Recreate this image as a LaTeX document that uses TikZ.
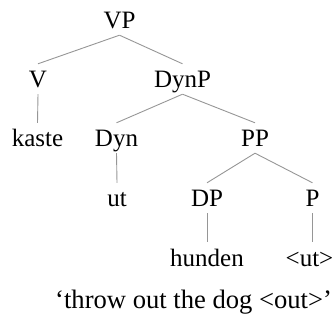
\documentclass[tikz,border=0pt]{standalone}
\usepackage{fontspec}
\setmainfont{Liberation Serif}
\definecolor{edgegray}{RGB}{150,150,150}
\tikzset{
  lab/.style={anchor=base, inner xsep=0pt, inner ysep=6pt, text height=18pt, text depth=0pt, font=\fontsize{25}{30}\selectfont},
  edge/.style={draw=edgegray, line width=0.9pt},
  capt/.style={anchor=base west, inner sep=0pt, font=\fontsize{26.6}{32}\selectfont}
}
\begin{document}
\begin{tikzpicture}[x=1pt,y=-1pt]
\useasboundingbox (0,0) rectangle (334,320);
\node[lab] (VP) at (119.5,29) {VP};
\node[lab] (V) at (38,88) {V};
\node[lab] (DynP) at (182.5,88) {DynP};
\node[lab] (kaste) at (37.5,147) {kaste};
\node[lab] (Dyn) at (116.5,147) {Dyn};
\node[lab] (PP) at (255,147) {PP};
\node[lab] (ut) at (117,207) {ut};
\node[lab] (DP) at (207,207) {DP};
\node[lab] (P) at (312.5,207) {P};
\node[lab] (hunden) at (207,266) {hunden};
\node[lab] (ut2) at (309.5,266) {<ut>};
\node[capt] (cap) at (55,308) {‘throw out the dog <out>’};
\draw[edge] (VP.south) -- (V.north);
\draw[edge] (VP.south) -- (DynP.north);
\draw[edge] (V.south) -- (kaste.north);
\draw[edge] (DynP.south) -- (Dyn.north);
\draw[edge] (DynP.south) -- (PP.north);
\draw[edge] (Dyn.south) -- (ut.north);
\draw[edge] (PP.south) -- (DP.north);
\draw[edge] (PP.south) -- (P.north);
\draw[edge] (DP.south) -- (hunden.north);
\draw[edge] (P.south) -- (P.south |- ut2.north);
\end{tikzpicture}
\end{document}
